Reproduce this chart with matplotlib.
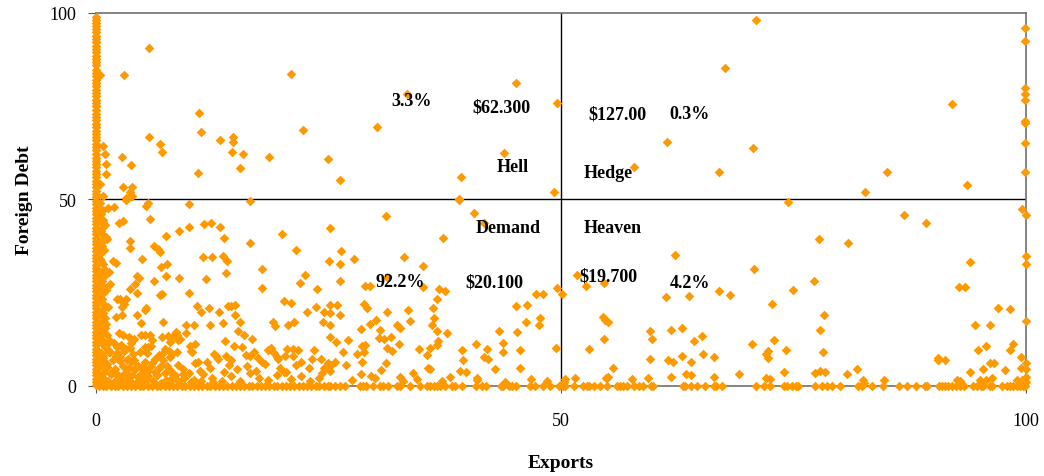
import matplotlib
matplotlib.use("Agg")
import matplotlib.pyplot as plt

# foreign debt of the countries sitting exactly on exports = 0
zero_export_debt = [99, 98.2, 97.4, 96.5, 95.6, 94.8, 93.9, 93.0, 92.1, 91.2, 90.2, 89.4,
                    88.5, 87.6, 86.8, 85.9, 84.8, 83.9, 83.0, 82.0, 81.2, 80.3, 79.4, 78.4,
                    77.6, 76.7, 75.8, 74.9, 73.9, 73.0, 72.1, 71.3, 70.3, 69.5, 68.4, 67.6,
                    66.7, 65.8, 64.9, 63.9, 63.1, 62.2, 61.2, 60.4, 59.5, 58.6, 57.6, 56.8,
                    55.9, 54.9, 54.1, 53.2, 52.2, 51.4, 50.5, 49.6, 48.7, 47.8, 46.9, 46.0,
                    45.1, 44.2, 43.3, 42.4, 41.5, 40.6, 39.7, 38.8, 37.9, 37.0, 36.1, 35.2,
                    34.3, 33.4, 32.5, 31.6, 30.7, 29.8, 28.9, 28.0, 27.1, 26.2, 25.3, 24.4,
                    23.5, 22.6, 21.7, 20.8, 19.9, 19.0, 18.1, 17.2, 16.3, 15.4, 14.5, 13.6,
                    12.7, 11.8, 10.9, 10.0, 9.1, 8.2, 7.3, 6.4, 5.5, 4.6, 3.7, 2.8, 1.9, 1.0, 0.2]

# exports of the countries with zero foreign debt
zero_debt_exports = [0.3, 0.7, 1.1, 1.6, 2.0, 2.4, 2.9, 3.3, 3.8, 4.2, 4.7, 5.1, 5.6, 6.0, 6.5,
                     6.9, 7.4, 7.8, 8.3, 8.7, 9.2, 9.6, 10.1, 10.5, 11.0, 11.4, 11.9, 12.3, 12.8,
                     13.2, 13.7, 14.1, 14.6, 15.0, 15.5, 15.9, 16.4, 16.8, 17.3, 17.7, 18.2, 18.6,
                     19.1, 19.5, 20.0, 20.4, 20.9, 21.3, 21.8, 22.2, 22.7, 23.1, 23.6, 24.0, 24.5,
                     24.9, 25.2, 25.7, 26.2, 26.8, 28.4, 28.7, 29.0, 29.8, 30.5, 30.9, 31.4, 32.3,
                     32.7, 33.8, 34.8, 35.6, 35.9, 36.3, 36.6, 37.0, 37.5, 38.3, 38.6, 39.3, 40.8,
                     41.5, 41.9, 43.5, 43.8, 44.4, 44.7, 45.1, 46.7, 47.2, 48.1, 48.8, 49.8, 50.2,
                     50.4, 51.4, 52.3, 52.8, 53.0, 53.5, 54.2, 54.9, 56.0, 56.3, 56.7, 57.1, 57.8,
                     58.4, 58.8, 59.7, 59.9, 63.1, 63.3, 64.0, 64.6, 65.5, 66.4, 66.7, 67.3, 71.0,
                     71.8, 72.5, 74.0, 74.3, 74.8, 75.2, 75.5, 77.3, 78.0, 78.6, 79.1, 80.0, 81.9,
                     82.3, 83.4, 84.6, 86.3, 87.2, 88.2, 89.1, 89.3, 90.6, 90.9, 91.3, 91.6, 92.0,
                     92.4, 92.9, 93.3, 94.3, 94.7, 95.1, 95.4, 96.1, 96.3, 97.4, 97.9, 98.3, 98.6,
                     99.0, 99.3, 99.7, 99.9]

# "Hell": low exports, high debt
hell_exports = [5.7, 3.0, 0.4, 21.0, 11.1, 11.3, 5.7, 6.9, 7.1, 13.3, 14.7, 14.7, 14.6, 15.8,
                22.3, 18.6, 24.9, 26.2, 11.0, 15.5, 2.8, 3.8, 0.7, 1.0, 1.1, 1.1, 2.9, 3.7,
                3.9, 3.9, 0.8, 0.4, 3.2, 45.1, 33.4, 49.6, 30.2, 43.9, 39.2, 49.2, 39.0, 3.8]
hell_debt = [90.5, 83.3, 83.3, 83.6, 73.1, 68.0, 66.8, 64.9, 62.7, 65.8, 66.8, 65.3, 62.7, 62.1,
             68.6, 61.3, 60.8, 55.2, 57.1, 58.3, 61.3, 59.2, 64.3, 62.2, 59.5, 56.8, 53.4, 52.1,
             53.4, 51.0, 51.0, 54.0, 50.3, 81.1, 78.3, 75.8, 69.3, 62.4, 55.9, 52.1, 50.1, 51.0]

# "Hedge": high exports, high debt
hedge_exports = [70.9, 67.6, 61.4, 70.6, 57.8, 67.0, 99.9, 99.9, 99.9, 99.9, 99.9, 99.9, 99.9,
                 99.9, 99.9, 92.0, 85.0, 93.6, 82.7]
hedge_debt = [98.2, 85.2, 65.3, 63.7, 58.6, 57.3, 95.9, 92.4, 79.8, 78.2, 76.6, 71.1, 70.5,
              65.1, 57.4, 75.5, 57.4, 53.9, 52.0]

# "Demand": low exports, low debt
demand_exports = [16.6, 3.2, 5.6, 5.4, 10.0, 1.3, 1.9, 0.7, 5.8, 2.5, 2.9, 11.6, 12.4, 13.3,
                  13.8, 10.0, 8.9, 7.5, 3.7, 3.6, 1.1, 1.2, 6.2, 6.7, 6.9, 4.9, 1.8, 2.1, 0.6,
                  7.6, 7.0, 11.5, 12.5, 13.7, 14.1, 14.0, 11.8, 16.6, 17.8, 17.8, 20.0, 21.5,
                  25.2, 25.0, 22.5, 21.9, 23.8, 8.9, 7.5, 6.2, 4.4, 4.6, 4.2, 3.7, 6.9, 7.1,
                  4.4, 10.0, 0.8, 1.5, 1.1, 0.8, 2.2, 2.6, 3.2, 3.0, 2.8, 1.3, 0.8, 5.3, 5.4,
                  4.4, 4.8, 2.1, 1.0, 2.8, 10.9, 12.1, 11.3, 13.2, 14.2, 14.9, 14.5, 14.9, 15.5,
                  13.6, 12.3, 10.5, 9.7, 7.2, 9.7, 8.6, 8.7, 8.8, 7.1, 4.8, 5.3, 5.8, 2.5, 2.9,
                  3.5, 4.1, 1.5, 13.9, 15.3, 15.9, 16.8, 14.8, 15.7, 16.1, 17.0, 16.6, 17.4,
                  17.8, 14.0, 12.7, 12.9, 13.1, 14.5, 14.3, 10.6, 10.1, 10.2, 10.3, 10.6, 11.0,
                  11.9, 12.3, 7.8, 8.2, 8.0, 7.1, 6.8, 7.4, 8.7, 5.9, 5.3, 5.6, 2.2, 2.7, 3.2,
                  3.7, 1.4, 2.1, 2.6, 3.3, 3.8, 4.5, 4.9, 5.3, 4.2, 5.6, 1.2, 1.7, 2.2, 2.7,
                  3.2, 18.5, 18.8, 19.1, 19.4, 19.6, 20.3, 20.5, 21.2, 21.7, 21.2, 20.2, 20.4,
                  22.0, 23.2, 23.4, 22.9, 24.2, 24.5, 24.9, 24.3, 25.1, 19.0, 19.2, 20.6, 21.3,
                  22.7, 23.6, 24.5, 24.4, 25.2, 20.2, 21.0, 8.2, 7.7,
                  1.0, 2.0, 3.5, 4.5, 5.5, 6.5, 7.5, 8.5, 9.5, 10.5, 11.5, 12.5, 13.5, 14.5,
                  15.5, 16.5, 17.5, 18.5, 19.5, 21.0, 22.0, 23.0, 24.0, 6.0, 7.0, 8.8, 9.4,
                  10.0, 11.2, 13.8, 15.2, 16.2, 17.2, 18.2, 19.8, 21.5, 6.3, 8.0, 0.8, 1.0,
                  1.2, 1.0, 0.6, 0.7, 0.9, 1.0, 0.5, 0.6, 0.5, 0.7, 0.4, 0.5, 0.9, 0.6, 1.3,
                  0.8, 0.5, 1.1, 0.7, 0.4, 0.9, 0.6, 1.4, 0.5, 0.8, 0.7, 1.0, 0.5,
                  39.0, 40.6, 41.7, 31.2, 37.3, 26.3, 27.7, 33.1, 35.2, 26.2, 26.2, 28.9, 29.4,
                  31.3, 35.2, 36.9, 37.5, 36.6, 36.2, 36.3, 36.1, 36.7, 37.7, 36.8, 36.6, 35.9,
                  35.6, 35.7, 35.9, 28.8, 29.1, 25.9, 26.2, 25.2, 25.2, 31.3, 33.5, 33.7, 32.3,
                  32.7, 30.1, 29.5, 30.5, 30.4, 31.0, 31.7, 31.3, 31.8, 28.5, 27.1, 25.8, 25.2,
                  26.6, 26.9, 25.7, 25.3, 28.0, 28.6, 28.9, 28.8, 28.6, 28.5, 29.6, 30.6, 31.2,
                  32.6, 34.1, 32.7, 34.7, 39.3, 39.5, 39.1, 39.8, 40.8, 41.7, 42.1, 42.0, 40.9,
                  42.9, 43.3, 43.8, 43.7, 45.2, 45.1, 46.3, 46.2, 47.6, 47.7, 47.3, 48.0, 45.6,
                  45.6, 49.6, 49.5, 27.5, 30.0, 33.0, 34.5, 37.2, 38.0, 41.0, 44.0, 46.8, 48.5]
demand_debt = [49.6, 49.9, 49.1, 48.2, 48.8, 47.6, 47.9, 47.1, 44.8, 43.6, 44.1, 43.4, 43.7, 42.7,
               39.7, 42.7, 41.4, 40.1, 38.8, 37.0, 39.8, 39.4, 37.6, 36.7, 36.0, 34.0, 33.4, 32.8,
               32.8, 32.7, 31.8, 34.5, 34.5, 34.7, 33.4, 30.3, 28.7, 38.3, 31.4, 26.3, 40.8, 36.5,
               42.4, 33.6, 29.6, 27.6, 26.0, 29.0, 29.4, 28.0, 29.4, 29.0, 27.3, 26.0, 24.4, 24.7,
               24.9, 24.9, 26.9, 27.3, 25.7, 24.8, 23.3, 23.2, 23.3, 22.0, 21.1, 21.1, 22.0, 20.2,
               20.8, 18.9, 16.9, 18.5, 18.2, 18.9, 21.5, 20.9, 19.7, 19.9, 21.5, 21.8, 21.3, 18.9,
               17.2, 16.9, 16.4, 16.4, 16.4, 17.2, 14.2, 14.5, 13.5, 12.4, 13.0, 13.7, 13.7, 13.7,
               14.2, 13.6, 13.0, 12.5, 12.0, 11.9, 14.8, 13.5, 12.6, 10.6, 10.4, 8.4, 9.0, 7.9,
               7.5, 6.4, 8.1, 8.5, 7.9, 7.2, 7.0, 5.5, 11.3, 10.6, 9.3, 9.0, 6.0, 6.3, 6.3, 4.9,
               9.3, 8.6, 7.6, 8.6, 8.4, 9.9, 9.2, 10.8, 10.3, 10.3, 10.5, 11.0, 9.9, 10.2, 9.0,
               8.1, 7.7, 6.9, 6.3, 5.4, 5.0, 4.5, 4.5, 4.0, 5.8, 3.6, 3.2, 2.4, 2.0, 9.6, 10.2,
               8.8, 7.6, 7.2, 8.1, 9.9, 9.8, 9.5, 8.1, 3.6, 3.6, 6.5, 7.3, 9.6, 4.8, 7.3, 4.8,
               6.1, 3.5, 4.0, 17.2, 16.0, 16.4, 17.2, 19.9, 21.2, 19.9, 17.0, 21.8, 22.8, 22.3,
               13.0, 13.4,
               1.5, 1.0, 1.2, 2.5, 1.8, 2.8, 1.5, 3.0, 2.2, 1.6, 3.2, 2.0, 1.4, 2.6, 1.2, 3.4,
               2.2, 1.5, 2.8, 1.8, 2.6, 1.4, 2.2, 6.2, 5.2, 5.6, 4.4, 3.5, 4.1, 3.8, 4.6, 5.2,
               4.0, 5.8, 4.9, 5.5, 3.8, 4.3, 8.0, 10.5, 13.5, 15.5, 17.0, 19.5, 29.5, 31.0,
               35.5, 37.5, 42.0, 44.5, 49.0, 3.0, 5.0, 7.0, 9.5, 12.0, 14.0, 16.5, 20.5, 23.0,
               25.5, 28.0, 30.5, 33.5, 36.5, 40.5, 43.0, 46.0,
               49.9, 46.4, 43.6, 45.5, 39.7, 36.2, 34.0, 34.6, 32.2, 32.7, 28.0, 26.8, 26.8,
               29.2, 26.4, 26.0, 25.5, 23.3, 20.8, 18.3, 16.4, 14.8, 14.2, 11.9, 11.0, 10.1,
               8.3, 4.7, 4.4, 22.0, 20.9, 21.7, 19.0, 19.4, 16.4, 19.9, 20.4, 17.4, 16.4,
               15.6, 17.7, 16.6, 15.0, 12.9, 12.6, 13.2, 10.1, 9.3, 15.3, 12.3, 11.7, 13.1,
               9.0, 5.6, 6.3, 5.5, 8.6, 10.8, 11.0, 9.2, 6.3, 3.1, 2.6, 4.3, 6.2, 11.1, 3.4,
               2.4, 9.9, 9.7, 6.8, 4.1, 3.6, 11.3, 7.7, 7.1, 9.9, 2.2, 4.6, 14.8, 11.5, 9.2,
               14.4, 21.5, 21.8, 17.1, 16.4, 18.2, 24.7, 24.7, 9.5, 4.7, 26.2, 10.1, 1.5, 2.0,
               1.2, 1.8, 1.4, 2.5, 1.6, 1.1, 1.8, 1.3]

# crowded corner near the origin
cluster_exports = [0.5, 0.9, 0.4, 0.8, 0.5, 0.9, 0.4, 0.7, 0.5, 0.9, 0.4, 0.8, 0.6, 0.9, 0.4,
                   0.7, 0.5, 0.8, 0.4, 0.9, 0.6, 0.5, 0.8, 0.4,
                   1.3, 2.1, 2.8, 3.6, 4.4, 5.2, 6.1, 7.0, 7.9, 8.8,
                   1.6, 2.4, 3.1, 3.9, 4.8, 5.6, 6.5, 7.4, 8.3, 9.3,
                   1.2, 2.0, 2.9, 3.5, 4.3, 5.0, 5.9, 6.8, 7.6,
                   1.8, 2.6, 3.4, 4.1, 5.3, 6.3, 7.2,
                   1.5, 2.3, 3.0, 4.0, 4.7, 5.5,
                   1.1, 1.9, 2.7, 3.8, 6.0, 8.0, 9.0, 10.2, 11.3, 12.6]
cluster_debt = [1.7, 3.8, 5.2, 7.4, 8.9, 11.0, 12.4, 14.6, 16.1, 18.3, 19.6, 21.9, 23.2, 25.5,
                26.8, 29.1, 30.4, 32.7, 33.9, 36.3, 38.5, 41.6, 43.8, 47.1,
                1.2, 1.6, 0.9, 1.4, 1.1, 1.7, 1.3, 0.8, 1.5, 1.2,
                3.1, 2.7, 3.4, 2.9, 3.3, 2.6, 3.0, 3.5, 2.8, 3.2,
                5.0, 4.6, 5.3, 4.8, 5.1, 4.4, 5.4, 4.9, 5.2,
                7.0, 6.6, 7.3, 6.8, 6.5, 7.1, 6.9,
                9.2, 8.8, 9.4, 8.6, 9.1, 8.9,
                11.0, 11.4, 10.8, 11.6, 12.2, 11.8, 12.6, 0.9, 1.4, 1.1]

# "Heaven": high exports, low debt
heaven_exports = [74.4, 51.7, 50.1, 52.7, 54.6, 62.2, 70.7, 74.9, 61.3, 63.7, 67.0, 68.1, 72.7,
                  54.5, 54.7, 55.0, 54.6, 53.0, 55.6, 59.6, 59.8, 59.6, 61.8, 63.0, 64.3, 65.1,
                  65.2, 66.4, 61.5, 62.0, 63.0, 64.0, 61.8, 63.4, 64.0, 69.1, 66.4, 70.5, 72.9,
                  72.2, 72.0, 72.2, 74.2, 74.0, 72.0, 72.4, 55.0, 54.8, 51.5, 50.4, 50.3, 59.3,
                  57.6, 86.9, 89.2, 99.5, 100.0, 77.7, 80.8, 100.0, 100.0, 94.0, 77.2, 92.8,
                  93.4, 78.3, 77.8, 78.2, 100.0, 97.0, 98.2, 94.5, 96.1, 95.7, 94.8, 98.6, 98.3,
                  99.4, 100.0, 100.0, 99.4, 96.1, 96.5, 95.3, 97.7, 94.0, 90.5, 90.5, 91.3, 77.3,
                  77.8, 78.4, 80.7, 81.8, 82.4, 82.6, 84.7, 92.6, 92.9, 96.3, 95.0, 95.7, 99.0,
                  99.5, 100.0, 100.0]
heaven_debt = [49.2, 29.8, 24.7, 26.9, 27.6, 35.2, 31.3, 25.8, 23.7, 24.2, 25.3, 24.4, 22.0,
               18.4, 17.7, 17.1, 12.6, 9.9, 4.8, 14.8, 12.6, 7.1, 15.1, 15.5, 11.9, 13.3,
               8.5, 7.6, 6.8, 6.5, 7.9, 6.3, 2.5, 3.3, 2.8, 3.1, 2.3, 11.3, 12.4, 9.4, 8.5,
               7.4, 9.5, 3.6, 2.0, 1.8, 2.5, 2.0, 2.2, 1.8, 1.0, 2.2, 1.8, 45.7, 43.7, 47.5,
               45.8, 39.4, 38.3, 34.7, 32.7, 33.3, 28.0, 26.6, 26.4, 18.9, 15.1, 9.2, 17.5,
               21.0, 20.5, 16.2, 16.4, 10.8, 9.5, 11.3, 9.7, 7.7, 6.2, 4.6, 4.8, 6.2, 6.2,
               4.6, 4.3, 3.8, 7.4, 7.0, 7.0, 3.5, 4.0, 3.6, 3.3, 4.5, 1.5, 0.8, 1.6, 1.5, 1.2,
               2.2, 1.6, 1.6, 1.6, 1.6, 2.5, 1.0]

# quadrant annotations: (text, exports, debt)
labels = [("3.3%", 33.9, 76.4), ("$62.300", 43.6, 74.8),
          ("$127.00", 56.1, 72.9), ("0.3%", 63.8, 72.9),
          ("Hell", 44.8, 58.7), ("Hedge", 55.1, 57.1),
          ("Demand", 44.3, 42.4), ("Heaven", 55.5, 42.5),
          ("92.2%", 32.7, 27.9), ("$20.100", 42.8, 27.9),
          ("$19.700", 55.1, 29.4), ("4.2%", 63.8, 27.6)]

serif = ["Liberation Serif", "DejaVu Serif"]
orange = "#FF9900"

fig = plt.figure(figsize=(10.44, 4.77), dpi=100)
ax = fig.add_axes([0.092, 0.189, 0.891, 0.782])

xs = [0.0] * len(zero_export_debt) + zero_debt_exports + hell_exports + hedge_exports \
    + demand_exports + cluster_exports + heaven_exports
ys = zero_export_debt + [0.0] * len(zero_debt_exports) + hell_debt + hedge_debt \
    + demand_debt + cluster_debt + heaven_debt
ax.scatter(xs, ys, marker="D", s=24, color=orange, linewidths=0, zorder=3, clip_on=False)

# quadrant dividers
ax.axvline(50, color="black", lw=1, zorder=1)
ax.axhline(50, color="black", lw=1, zorder=1)

for txt, x, y in labels:
    ax.text(x, y, txt, ha="center", va="center", fontsize=13, fontweight="bold",
            family=serif, zorder=4)

ax.set_xlim(0, 100)
ax.set_ylim(0, 100)
ax.set_xticks([0, 50, 100])
ax.set_yticks([0, 50, 100])
for lbl in ax.get_xticklabels() + ax.get_yticklabels():
    lbl.set_family(serif)
    lbl.set_fontsize(13)
ax.tick_params(axis="x", direction="out", length=5, pad=14, color="#555555")
ax.tick_params(axis="y", direction="out", length=6, pad=8, color="#555555")
for sp in ax.spines.values():
    sp.set_color("#707070")
    sp.set_linewidth(1.2)

ax.set_xlabel("Exports", family=serif, fontsize=14, fontweight="bold", labelpad=18)
ax.set_ylabel("Foreign Debt", family=serif, fontsize=14, fontweight="bold", labelpad=12)

fig.savefig("out.png", dpi=100)
